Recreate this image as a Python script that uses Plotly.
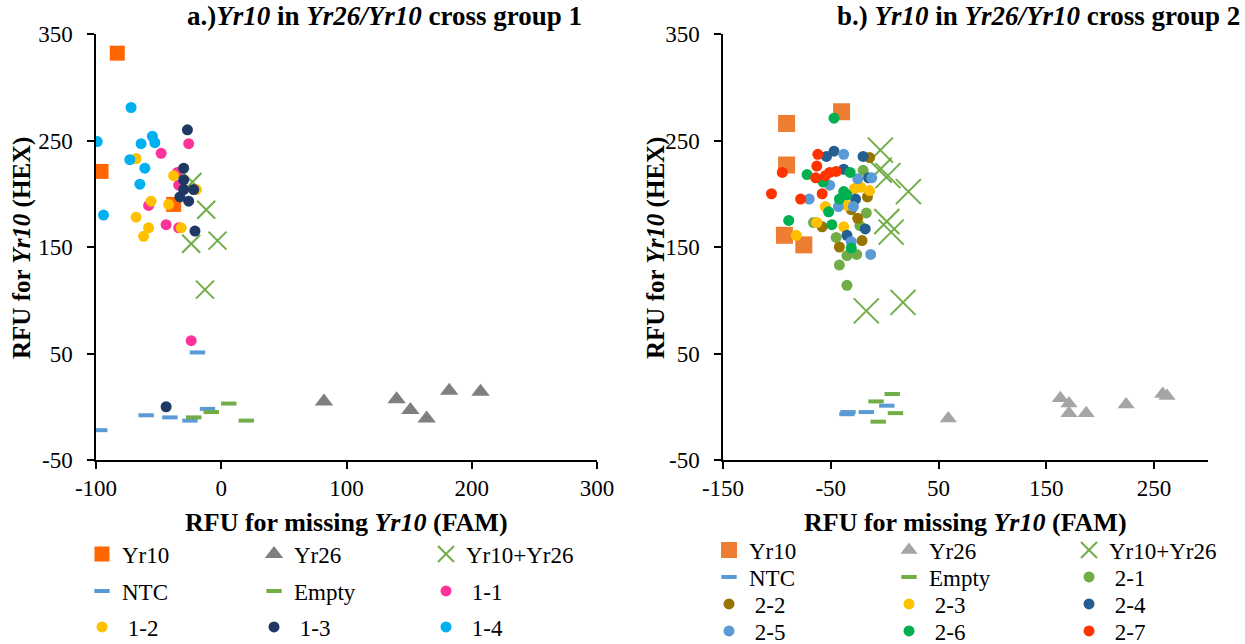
import plotly.graph_objects as go

W, H = 1245, 644
FONT = "Liberation Serif, Times New Roman, serif"

# ---------- axis ticks ----------
a_x_ticks = [-100, 0, 100, 200, 300]
b_x_ticks = [-150, -50, 50, 150, 250]
y_ticks = [-50, 50, 150, 250, 350]

# ---------- group 1 data (RFU FAM, RFU HEX) ----------
a_yr10_x = [-83, -96, -38]
a_yr10_y = [332, 221, 190]
a_yr26_x = [82, 140, 151, 164, 182, 207]
a_yr26_y = [5, 7, -3, -11, 15, 14]
a_both_x = [-23, -12, -24, -3, -13]
a_both_y = [211, 185, 153, 156, 110]
a_ntc_x = [-19, -97, -60, -41, -25, -11]
a_ntc_y = [51, -22, -8, -10, -13, -2]
a_empty_x = [-22, -8, 6, 20]
a_empty_y = [-10, -5, 3, -13]
a_11_x = [-26, -48, -35, -34, -58, -44, -34, -24]
a_11_y = [247, 238, 220, 208, 189, 171, 168, 62]
a_12_x = [-68, -38, -20, -56, -42, -68, -58, -32, -62]
a_12_y = [233, 217, 204, 193, 190, 178, 168, 168, 160]
a_13_x = [-27, -30, -30, -30, -22, -33, -26, -21, -44]
a_13_y = [260, 224, 213, 204, 204, 197, 193, 165, 0]
a_14_x = [-72, -99, -55, -64, -53, -73, -61, -65, -94]
a_14_y = [281, 249, 254, 247, 248, 232, 224, 209, 180]

# ---------- group 2 data ----------
b_yr10_x = [-40, -91, -91, -93, -75]
b_yr10_y = [277, 266, 227, 161, 152]
b_yr26_x = [59, 163, 171, 171, 187, 224, 258, 262]
b_yr26_y = [-11, 8, 3, -6, -6, 2, 12, 10]
b_both_x = [-4, -5, 3, 22, 2, 6, -17, 17]
b_both_y = [241, 222, 217, 202, 174, 164, 90, 98]
b_ntc_x = [-34, -35, -17, 2]
b_ntc_y = [-5, -7, -5, 1]
b_empty_x = [7, -8, 10, -6]
b_empty_y = [12, 5, -6, -14]
b_21_x = [-20, -17, -66, -45, -23, -35, -26, -42, -35]
b_21_y = [222, 182, 173, 159, 170, 142, 143, 133, 114]
b_22_x = [-14, -16, -25, -58, -21, -42, -31]
b_22_y = [234, 197, 177, 169, 156, 150, 185]
b_23_x = [-28, -14, -55, -63, -38, -82, -35, -22]
b_23_y = [205, 203, 188, 173, 169, 161, 189, 206]
b_24_x = [-47, -54, -20, -38, -15, -27, -18, -35]
b_24_y = [240, 235, 235, 223, 215, 195, 167, 161]
b_25_x = [-38, -12, -25, -51, -70, -43, -29, -13, -31]
b_25_y = [237, 215, 214, 208, 195, 188, 188, 143, 155]
b_26_x = [-47, -72, -32, -57, -38, -42, -35, -52, -89, -49, -31]
b_26_y = [271, 218, 220, 211, 202, 195, 199, 183, 175, 171, 149]
b_27_x = [-62, -63, -95, -64, -55, -51, -45, -105, -78, -58]
b_27_y = [237, 226, 220, 215, 217, 220, 221, 200, 195, 200]

NB = "\u00a0"

fig = go.Figure()


def add(x, y, name, axis, legend, symbol, color, size, line=None):
    marker = dict(symbol=symbol, color=color, size=size)
    marker["line"] = line if line is not None else dict(width=0)
    fig.add_trace(go.Scatter(
        x=x, y=y, name=name, mode="markers", marker=marker,
        xaxis="x" if axis == 1 else "x2", yaxis="y" if axis == 1 else "y2",
        legend=legend, hoverinfo="x+y+name"))


# group 1 series
add(a_yr10_x, a_yr10_y, "Yr10", 1, "legend", "square", "#FF6600", 15)
add(a_yr26_x, a_yr26_y, "Yr26", 1, "legend", "triangle-up", "#7F7F7F", 16)
add(a_both_x, a_both_y, "Yr10+Yr26", 1, "legend", "x-thin", "#70AD47", 18,
    dict(color="#70AD47", width=2))
add(a_ntc_x, a_ntc_y, "NTC", 1, "legend2", "line-ew", "#5B9BD5", 11,
    dict(color="#5B9BD5", width=4))
add(a_empty_x, a_empty_y, "Empty", 1, "legend2", "line-ew", "#70AD47", 11,
    dict(color="#70AD47", width=4))
add(a_11_x, a_11_y, NB + "1-1", 1, "legend2", "circle", "#FF3399", 11)
add(a_12_x, a_12_y, NB + "1-2", 1, "legend3", "circle", "#FFC000", 11)
add(a_13_x, a_13_y, NB + "1-3", 1, "legend3", "circle", "#1F3864", 11)
add(a_14_x, a_14_y, NB + "1-4", 1, "legend3", "circle", "#00B0F0", 11)

# group 2 series
add(b_yr10_x, b_yr10_y, "Yr10", 2, "legend4", "square", "#ED7D31", 17)
add(b_yr26_x, b_yr26_y, "Yr26", 2, "legend4", "triangle-up", "#A5A5A5", 15)
add(b_both_x, b_both_y, "Yr10+Yr26", 2, "legend4", "x-thin", "#70AD47", 25,
    dict(color="#70AD47", width=2))
add(b_ntc_x, b_ntc_y, "NTC", 2, "legend5", "line-ew", "#5B9BD5", 11,
    dict(color="#5B9BD5", width=4))
add(b_empty_x, b_empty_y, "Empty", 2, "legend5", "line-ew", "#70AD47", 11,
    dict(color="#70AD47", width=4))
add(b_21_x, b_21_y, NB + "2-1", 2, "legend5", "circle", "#70AD47", 11)
add(b_22_x, b_22_y, NB + "2-2", 2, "legend6", "circle", "#997300", 11)
add(b_23_x, b_23_y, NB + "2-3", 2, "legend6", "circle", "#FFC000", 11)
add(b_24_x, b_24_y, NB + "2-4", 2, "legend6", "circle", "#255E91", 11)
add(b_25_x, b_25_y, NB + "2-5", 2, "legend7", "circle", "#5B9BD5", 11)
add(b_26_x, b_26_y, NB + "2-6", 2, "legend7", "circle", "#00B050", 11)
add(b_27_x, b_27_y, NB + "2-7", 2, "legend7", "circle", "#FF3300", 11)


def px_x(p):
    return p / W


def px_y(p):
    return 1 - p / H


axis_common = dict(
    showline=True, linecolor="black", linewidth=1.5, mirror=False,
    showgrid=False, zeroline=False, ticks="outside", ticklen=7,
    tickwidth=1.5, tickcolor="black", automargin=False,
    tickfont=dict(family=FONT, size=23, color="black"),
)


def ticks(vals):
    return dict(tickmode="array", tickvals=vals, ticktext=[str(v) for v in vals])


ydom = [px_y(460), px_y(34)]

fig.update_layout(
    width=W, height=H,
    margin=dict(l=0, r=0, t=0, b=0, autoexpand=False),
    paper_bgcolor="white", plot_bgcolor="white",
    font=dict(family=FONT, color="black"),
    xaxis=dict(domain=[px_x(96), px_x(597)], range=[-100, 300], anchor="y",
               **ticks(a_x_ticks), **axis_common),
    yaxis=dict(domain=ydom, range=[-50, 350], anchor="x",
               ticklabelstandoff=10, **ticks(y_ticks), **axis_common),
    xaxis2=dict(domain=[px_x(723), px_x(1208)], range=[-150, 300],
                anchor="y2", **ticks(b_x_ticks), **axis_common),
    yaxis2=dict(domain=ydom, range=[-50, 350], anchor="x2",
                ticklabelstandoff=10, **ticks(y_ticks), **axis_common),
    showlegend=True,
)

# legend rows: three for group 1, four for group 2
leg_font = dict(family=FONT, size=23, color="black")


def leg(xpx, ypx, ew):
    return dict(orientation="h", x=px_x(xpx), y=px_y(ypx), xanchor="left",
                yanchor="middle", entrywidth=ew, entrywidthmode="pixels",
                font=leg_font, bgcolor="rgba(0,0,0,0)", borderwidth=0,
                traceorder="normal")


fig.update_layout(
    legend=leg(82, 554, 127),
    legend2=leg(82, 591, 127),
    legend3=leg(82, 627, 127),
    legend4=leg(709, 550, 135),
    legend5=leg(709, 577, 135),
    legend6=leg(709, 604, 135),
    legend7=leg(709, 631, 135),
)

ann = []


def note(text, xpx, ypx, size, angle=0):
    ann.append(dict(text=text, x=px_x(xpx), y=px_y(ypx), xref="paper",
                    yref="paper", xanchor="center", yanchor="middle",
                    showarrow=False, textangle=angle,
                    font=dict(family=FONT, size=size, color="black")))


note("<b>a.)<i>Yr10</i> in <i>Yr26/Yr10</i> cross group 1</b>", 384, 16, 27)
note("<b>b.) <i>Yr10</i> in <i>Yr26/Yr10</i> cross group 2</b>", 1038, 16, 27)
for cx in (346, 965):
    note("<b>RFU for missing <i>Yr10</i> (FAM)</b>", cx, 522, 26)
for cx in (22, 656):
    note("<b>RFU for <i>Yr10</i> (HEX)</b>", cx, 248, 25, -90)
fig.update_layout(annotations=ann)

fig.write_html("out.html")
